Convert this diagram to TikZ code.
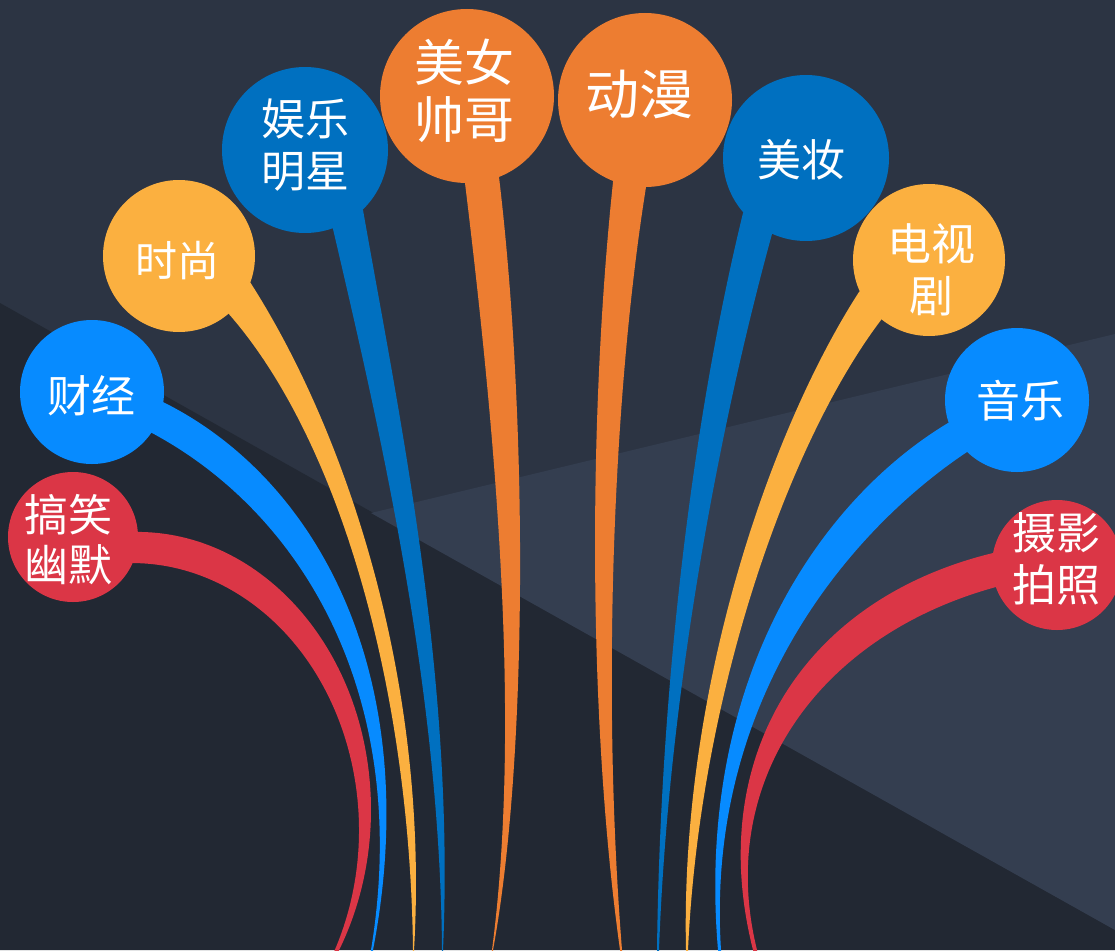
\documentclass[tikz,border=0pt]{standalone}
\usepackage{fontspec}
\newfontfamily\cjk{Noto Sans CJK SC}
\definecolor{bgmid}{HTML}{2C3443}
\definecolor{bgdark}{HTML}{222833}
\definecolor{bglight}{HTML}{343E50}
\definecolor{cred}{HTML}{DB3646}
\definecolor{cblue}{HTML}{078BFF}
\definecolor{cnavy}{HTML}{0070C0}
\definecolor{cyellow}{HTML}{FBB040}
\definecolor{corange}{HTML}{ED7D31}
\begin{document}
\begin{tikzpicture}[x=1pt,y=-1pt,
  bubble/.style={circle, inner sep=0pt, minimum size=#1},
  lbl/.style={text=white, align=center, inner sep=0pt, font=\cjk\fontsize{44}{52}\selectfont}]
\useasboundingbox (0,0) rectangle (1115,950);
\clip (0,0) rectangle (1115,950);
% background
\fill[bgmid] (0,0) rectangle (1115,950);
\fill[bgdark] (0,303) -- (1115,930) -- (1115,950) -- (0,950) -- cycle;
\fill[bglight] (371,513) -- (1115,334) -- (1115,930) -- cycle;

% stems, left side
\fill[cred] (116.6,533) arc[start angle=95, end angle=-31.5, x radius=234pt, y radius=278pt]
  -- (332.4,955.4) arc[start angle=-28, end angle=92, x radius=227pt, y radius=267pt] -- cycle;
\fill[cblue] (140,398) -- (163,402) .. controls (320,480) and (425,680) .. (373,950) -- (373.5,958) -- (370.5,958)
  -- (371,950) .. controls (412,700) and (305,515) .. (152,433) -- (135,425) -- cycle;
\fill[cyellow] (240,285) -- (250,282) .. controls (345,430) and (430,680) .. (414,950) -- (414,958) -- (412.5,958)
  -- (413,950) .. controls (410,690) and (340,440) .. (228,313) -- (220,305) -- cycle;
\fill[cnavy] (355,200) -- (363,210) .. controls (400,420) and (455,680) .. (443,950) -- (443,958) -- (441.5,958)
  -- (442,950) .. controls (440,690) and (380,430) .. (333,229) -- (325,215) -- cycle;
\fill[corange] (465,170) -- (465,183) .. controls (495,430) and (522,720) .. (492,950) -- (491.5,958) -- (493.5,958)
  -- (493,950) .. controls (528,760) and (528,420) .. (499,177) -- (499,165) -- cycle;
% stems, right side
\fill[corange] (613,170) -- (613,182) .. controls (588,420) and (588,720) .. (620,950) -- (620.5,958) -- (622.5,958)
  -- (622,950) .. controls (602,700) and (612,400) .. (646,187) -- (646,175) -- cycle;
\fill[cnavy] (750,205) -- (743,213) .. controls (690,430) and (660,700) .. (657,950) -- (657,958) -- (659,958)
  -- (659,950) .. controls (668,700) and (718,430) .. (772,234) -- (780,225) -- cycle;
\fill[cyellow] (868,285) -- (859,292) .. controls (770,430) and (680,690) .. (686,950) -- (686,958) -- (688,958)
  -- (688,950) .. controls (700,690) and (790,440) .. (881,320) -- (888,310) -- cycle;
\fill[cblue] (960,418) -- (948,423) .. controls (820,500) and (695,680) .. (718,950) -- (718,958) -- (721,958)
  -- (721,950) .. controls (705,700) and (850,530) .. (967,452) -- (975,445) -- cycle;
\fill[cred] (1005,550) -- (993,553) .. controls (800,600) and (705,760) .. (753,950) -- (754,958) -- (758,958)
  -- (757,950) .. controls (715,780) and (820,635) .. (996,587) -- (1010,590) -- cycle;

% bubbles
\node[bubble=130pt, fill=cred]    (gx) at (73,537)  {};
\node[bubble=144pt, fill=cblue]   (cj) at (92,392)  {};
\node[bubble=152pt, fill=cyellow] (ss) at (179,256) {};
\node[bubble=166pt, fill=cnavy]   (yl) at (305,150) {};
\node[bubble=174pt, fill=corange] (mn) at (467,96)  {};
\node[bubble=174pt, fill=corange] (dm) at (645,100) {};
\node[bubble=166pt, fill=cnavy]   (mz) at (806,158) {};
\node[bubble=152pt, fill=cyellow] (ds) at (929,260) {};
\node[bubble=144pt, fill=cblue]   (yy) at (1017,400) {};
\node[bubble=130pt, fill=cred]    (sy) at (1057,565) {};

% labels
\node[lbl, font=\cjk\fontsize{44}{50}\selectfont] (tgx) at (68,540) {搞笑\\幽默};
\node[lbl] (tcj) at (91,396) {财经};
\node[lbl, font=\cjk\fontsize{42}{50}\selectfont] (tss) at (177,261) {时尚};
\node[lbl] (tyl) at (305,145) {娱乐\\明星};
\node[lbl, font=\cjk\fontsize{50}{57}\selectfont] (tmn) at (464,91) {美女\\帅哥};
\node[lbl, font=\cjk\fontsize{54}{60}\selectfont] (tdm) at (639,94) {动漫};
\node[lbl] (tmz) at (801,160) {美妆};
\node[lbl] (tds) at (931,270) {电视\\剧};
\node[lbl] (tyy) at (1020,401) {音乐};
\node[lbl] (tsy) at (1056,559) {摄影\\拍照};
\end{tikzpicture}
\end{document}
